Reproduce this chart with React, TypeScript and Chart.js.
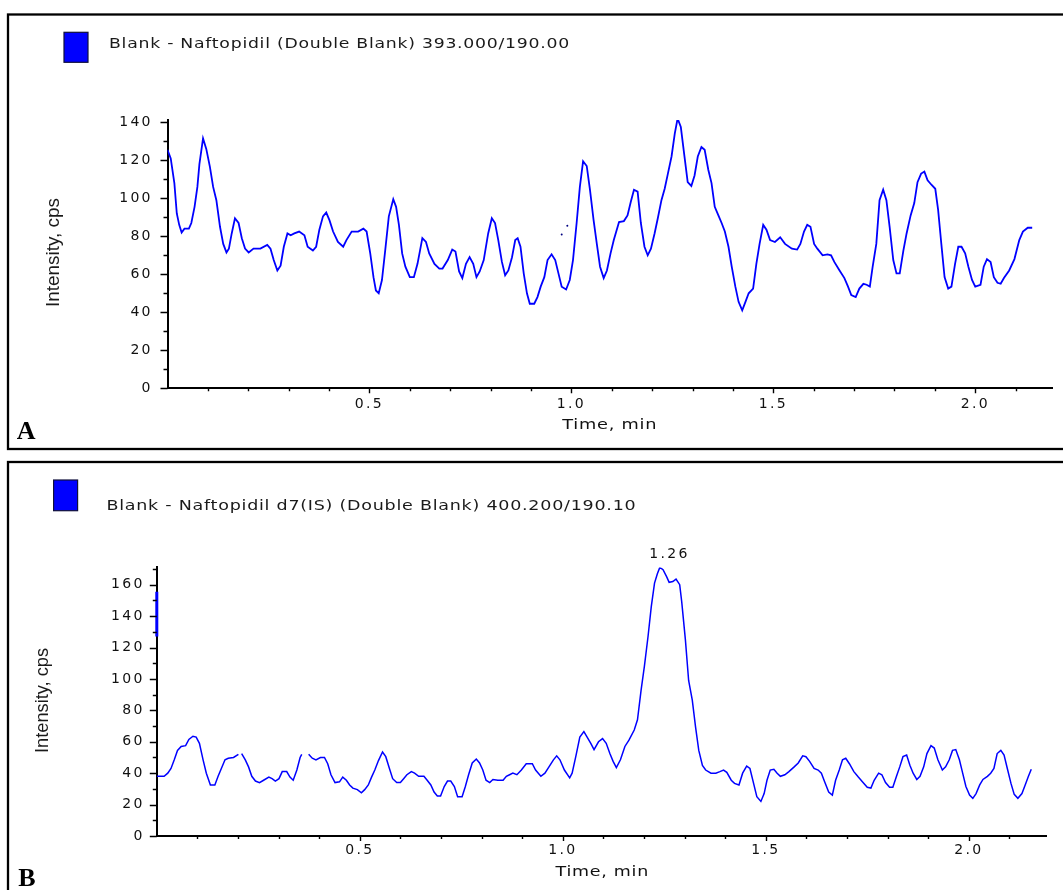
import React, { useEffect, useRef } from "react";
import { Chart, registerables } from "chart.js";

Chart.register(...registerables);

// ---------- Panel A: Blank - Naftopidil (Double Blank) 393.000/190.00 ----------
const titleA = "Blank - Naftopidil (Double Blank) 393.000/190.00";
const timesA = [
  0.0, 0.008, 0.017, 0.023, 0.029, 0.035, 0.042, 0.053, 0.059, 0.067, 0.074, 0.079, 0.088, 0.096,
  0.105, 0.113, 0.121, 0.13, 0.138, 0.146, 0.152, 0.159, 0.167, 0.176, 0.184, 0.192, 0.201, 0.213,
  0.23, 0.247, 0.255, 0.263, 0.272, 0.28, 0.288, 0.297, 0.305, 0.314, 0.326, 0.339, 0.347, 0.36,
  0.368, 0.376, 0.385, 0.393, 0.401, 0.41, 0.422, 0.435, 0.443, 0.456, 0.472, 0.485, 0.493, 0.502,
  0.51, 0.516, 0.523, 0.531, 0.539, 0.548, 0.559, 0.566, 0.573, 0.581, 0.589, 0.6, 0.61, 0.619,
  0.631, 0.64, 0.648, 0.661, 0.673, 0.681, 0.694, 0.705, 0.713, 0.722, 0.73, 0.739, 0.748, 0.757,
  0.765, 0.773, 0.783, 0.794, 0.803, 0.811, 0.819, 0.828, 0.836, 0.844, 0.853, 0.861, 0.867, 0.874,
  0.882, 0.89, 0.897, 0.908, 0.916, 0.924, 0.933, 0.941, 0.951, 0.96, 0.968, 0.976, 0.987, 0.996,
  1.004, 1.013, 1.021, 1.029, 1.038, 1.046, 1.055, 1.063, 1.071, 1.08, 1.088, 1.097, 1.105, 1.118,
  1.13, 1.139, 1.147, 1.155, 1.164, 1.172, 1.181, 1.189, 1.197, 1.206, 1.214, 1.223, 1.231, 1.239,
  1.248, 1.256, 1.263, 1.271, 1.28, 1.288, 1.297, 1.305, 1.313, 1.322, 1.33, 1.339, 1.347, 1.355,
  1.364, 1.372, 1.38, 1.389, 1.397, 1.406, 1.414, 1.423, 1.431, 1.439, 1.45, 1.458, 1.466, 1.475,
  1.483, 1.492, 1.504, 1.517, 1.529, 1.546, 1.559, 1.567, 1.576, 1.584, 1.592, 1.601, 1.609, 1.622,
  1.634, 1.643, 1.651, 1.664, 1.676, 1.685, 1.693, 1.704, 1.713, 1.723, 1.731, 1.739, 1.746, 1.755,
  1.763, 1.772, 1.78, 1.788, 1.797, 1.805, 1.813, 1.822, 1.83, 1.84, 1.849, 1.857, 1.866, 1.874,
  1.882, 1.892, 1.901, 1.908, 1.916, 1.924, 1.933, 1.941, 1.95, 1.958, 1.966, 1.975, 1.983, 1.992,
  2.0, 2.013, 2.021, 2.029, 2.038, 2.046, 2.055, 2.063, 2.071, 2.084, 2.097, 2.109, 2.118, 2.13, 2.141,
];
const valuesA = [
  125.5, 121, 108, 92, 86, 82, 84, 84, 87, 95.5, 106, 118, 131.5, 126,
  116.5, 106, 99, 85, 76, 71.5, 73.5, 81.5, 89.5, 87, 79, 73.5, 71.5, 73.5,
  73.5, 75.5, 73.5, 67.5, 62, 64.5, 74.5, 81.5, 80.5, 81.5, 82.5, 80.5, 74.5, 72.5,
  74.5, 83.5, 90.5, 92.5, 88.5, 82.5, 77, 74.5, 78, 82.5, 82.5, 84, 82.5, 71,
  58.5, 51.5, 50, 57, 72.5, 90.5, 99.5, 95.5, 86, 71, 64, 58.5, 58.5, 65.5,
  79, 77, 71, 65.5, 63, 63, 67.5, 73, 72, 61.5, 58, 65.5, 69, 65.5,
  58.5, 61.5, 67.5, 81.5, 89.5, 87, 78, 66.5, 59.5, 62, 69, 78, 79, 74.5,
  60.5, 50, 44.5, 44.5, 48, 53.5, 58.5, 67.5, 70.5, 67.5, 60.5, 53.5, 52, 57,
  67.5, 87, 106, 119.5, 117, 104.5, 88.5, 76, 64, 58, 62, 71, 78, 87.5,
  88, 91, 98, 104.5, 103.5, 87, 74.5, 70, 73.5, 81.5, 89.5, 99, 105, 113,
  122, 134, 142, 137.5, 122, 108.5, 106.5, 112, 122, 127, 125.5, 115, 108, 95.5,
  91, 87, 82.5, 74.5, 64, 53.5, 45.5, 41, 45.5, 50, 52.5, 65.5, 76, 86,
  83.5, 78, 77, 79.5, 76, 73.5, 73, 76, 82.5, 86, 85, 76, 73.5, 70,
  70.5, 70, 66.5, 62, 58, 53.5, 49, 48, 52.5, 55, 54.5, 53.5, 64, 76,
  99, 104.5, 99, 85, 67.5, 60.5, 60.5, 72.5, 81.5, 91, 97.5, 108.5, 113, 114,
  109.5, 107, 105, 94, 76, 58.5, 52.5, 53.5, 65.5, 74.5, 74.5, 71, 64, 57,
  53.5, 54.5, 64, 68, 66.5, 58.5, 55.5, 55, 58, 62, 68, 78, 82.5, 84.5, 84.5,
];
// stray single-pixel marks seen above the trace
const strayTimesA = [0.976, 0.99];
const strayValuesA = [81, 85.5];

// ---------- Panel B: Blank - Naftopidil d7(IS) (Double Blank) 400.200/190.10 ----------
const titleB = "Blank - Naftopidil d7(IS) (Double Blank) 400.200/190.10";
const timesB = [
  0.0, 0.018, 0.027, 0.035, 0.043, 0.051, 0.06, 0.071, 0.079, 0.089, 0.097, 0.105, 0.114, 0.122,
  0.132, 0.143, 0.151, 0.159, 0.168, 0.176, 0.189, 0.201, 0.205, 0.209, 0.218, 0.226, 0.234, 0.243,
  0.253, 0.263, 0.276, 0.284, 0.292, 0.301, 0.309, 0.32, 0.328, 0.336, 0.345, 0.353, 0.357, 0.365,
  0.374, 0.383, 0.392, 0.403, 0.413, 0.421, 0.429, 0.439, 0.45, 0.458, 0.467, 0.475, 0.483, 0.494,
  0.504, 0.512, 0.521, 0.529, 0.537, 0.546, 0.556, 0.564, 0.573, 0.581, 0.591, 0.6, 0.608, 0.616,
  0.627, 0.635, 0.645, 0.658, 0.666, 0.675, 0.683, 0.691, 0.699, 0.708, 0.716, 0.724, 0.733, 0.741,
  0.752, 0.76, 0.768, 0.777, 0.787, 0.795, 0.803, 0.811, 0.82, 0.828, 0.84, 0.853, 0.861, 0.869,
  0.877, 0.887, 0.898, 0.91, 0.925, 0.933, 0.946, 0.956, 0.966, 0.977, 0.985, 0.993, 1.004, 1.017,
  1.023, 1.032, 1.042, 1.052, 1.06, 1.069, 1.077, 1.088, 1.098, 1.107, 1.116, 1.124, 1.132, 1.142,
  1.153, 1.163, 1.176, 1.184, 1.193, 1.201, 1.21, 1.218, 1.226, 1.233, 1.239, 1.247, 1.256, 1.262,
  1.271, 1.279, 1.288, 1.293, 1.302, 1.31, 1.319, 1.327, 1.335, 1.344, 1.352, 1.365, 1.377, 1.387,
  1.396, 1.404, 1.415, 1.423, 1.434, 1.443, 1.453, 1.461, 1.47, 1.478, 1.488, 1.496, 1.503, 1.511,
  1.52, 1.528, 1.536, 1.547, 1.557, 1.57, 1.58, 1.591, 1.599, 1.608, 1.619, 1.629, 1.637, 1.645,
  1.655, 1.664, 1.672, 1.681, 1.689, 1.697, 1.706, 1.717, 1.728, 1.738, 1.75, 1.759, 1.767, 1.778,
  1.786, 1.795, 1.805, 1.813, 1.822, 1.83, 1.838, 1.847, 1.855, 1.863, 1.872, 1.88, 1.889, 1.897,
  1.907, 1.915, 1.924, 1.935, 1.943, 1.952, 1.96, 1.968, 1.977, 1.985, 1.993, 2.002, 2.01, 2.018,
  2.027, 2.035, 2.046, 2.054, 2.062, 2.07, 2.079, 2.087, 2.095, 2.104, 2.112, 2.121, 2.131, 2.139,
  2.147, 2.154,
];
const valuesB = [
  38, 38, 40, 43, 48.5, 54.5, 57, 57.5, 61.5, 63.5, 63, 59, 48.5, 40,
  32.5, 32.5, 38, 43, 48.5, 49.5, 50, 52, null, 52.5, 48.5, 44, 38, 35,
  34, 35.5, 37.5, 36.5, 35, 36.5, 41, 41, 37.5, 35.5, 42, 50, 52, null,
  52, 49.5, 48.5, 50, 50, 46, 39, 34, 34.5, 37.5, 35.5, 32.5, 30.5, 29.5,
  27.5, 29.5, 32.5, 37.5, 42, 48, 53.5, 50.5, 43, 36.5, 34, 34, 36.5, 39,
  41, 40, 38, 38, 35.5, 32.5, 28, 25.5, 25.5, 31.5, 35, 35, 31.5, 25,
  25, 31.5, 39, 46.5, 49, 46.5, 42, 35.5, 34, 36, 35.5, 35.5, 38, 39,
  40, 39, 42, 46, 46, 42, 38, 40, 44, 48.5, 51, 48.5, 42, 37,
  40, 50.5, 63, 66.5, 63, 59, 55, 60, 62, 59, 52.5, 47.5, 43.5, 48.5,
  57, 61, 67.5, 74, 93, 108, 127, 146, 161, 167, 171, 169.5, 165, 161.5,
  162, 163.5, 160, 149, 125, 99, 86.5, 69.5, 54.5, 45, 42, 40, 40, 41,
  42, 40.5, 35.5, 33.5, 32.5, 40, 44.5, 43, 33.5, 25, 22, 27, 35.5, 42,
  42.5, 40, 38, 39, 41, 44, 46.5, 51, 50.5, 47.5, 43, 42, 40, 34.5,
  28, 26, 35.5, 42, 48.5, 49.5, 46, 41, 37.5, 34.5, 31, 30.5, 35.5, 40,
  39, 34, 31, 31, 38, 44, 50.5, 51.5, 45, 40, 36, 38, 44, 52.5,
  57.5, 56, 48.5, 42, 44, 48.5, 54.5, 55, 48.5, 40, 31.5, 26, 24, 27,
  32.5, 36, 38, 40, 43, 52.5, 54.5, 51.5, 43, 33.5, 26.5, 24, 27, 32.5,
  38, 42.5,
];
// short blue segment lying on the intensity axis at t = 0
const axisMarkTimesB = [0, 0];
const axisMarkValuesB = [155.5, 127];
const peakLabelB = "1.26";
const peakTimeB = 1.26;

const yLabel = "Intensity, cps";
const xLabel = "Time, min";

type Panel = {
  key: string;
  letter: string;
  title: string;
  canvasTop: number;
  canvasHeight: number;
  chartLeft: number;
  padRight: number;
  padTop: number;
  padBottom: number;
  xMax: number;
  yMax: number;
  yTickMax: number;
  yTickPad: number;
  xTickPad: number;
  border: [number, number, number, number];
  legendRect: [number, number, number, number];
  titlePos: [number, number, number];
  yLabelPos: [number, number, number];
  xLabelPos: [number, number, number];
  letterPos: [number, number];
  datasets: any[];
  peak?: { text: string; t: number; value: number };
};

const TICK_SPACING = 2.3;
const TICK_FONT = { family: "DejaVu Sans", size: 14 };

// draws text stretched horizontally so that it spans `width` pixels
function drawStretched(ctx: CanvasRenderingContext2D, text: string, left: number, cy: number, width: number, font: string, color: string) {
  ctx.save();
  ctx.font = font;
  (ctx as any).letterSpacing = "0.6px";
  const w0 = ctx.measureText(text).width;
  ctx.translate(left, cy);
  ctx.scale(width / w0, 1);
  ctx.fillStyle = color;
  ctx.textAlign = "left";
  ctx.textBaseline = "middle";
  ctx.fillText(text, 0, 0);
  ctx.restore();
}

function decorPlugin(p: Panel) {
  return {
    id: "decor" + p.key,
    beforeDraw(chart: any) {
      (chart.ctx as any).letterSpacing = TICK_SPACING + "px";
    },
    afterDraw(chart: any) {
      const ctx: CanvasRenderingContext2D = chart.ctx;
      const xs = chart.scales.x;
      const ys = chart.scales.y;
      ctx.save();
      (ctx as any).letterSpacing = "0px";
      // panel frame
      ctx.strokeStyle = "#000";
      ctx.lineWidth = 2.3;
      ctx.strokeRect(p.border[0], p.border[1], p.border[2], p.border[3]);
      // legend swatch
      ctx.fillStyle = "#0000ff";
      ctx.fillRect(p.legendRect[0], p.legendRect[1], p.legendRect[2], p.legendRect[3]);
      ctx.strokeStyle = "#10103a";
      ctx.lineWidth = 1.2;
      ctx.strokeRect(p.legendRect[0], p.legendRect[1], p.legendRect[2], p.legendRect[3]);
      // trace title
      drawStretched(ctx, p.title, p.titlePos[0], p.titlePos[1], p.titlePos[2], '14px "DejaVu Sans"', "#1a1a1a");
      // tick marks
      ctx.strokeStyle = "#000";
      ctx.lineWidth = 1.4;
      const axisX = xs.left;
      const axisY = ys.bottom;
      ctx.beginPath();
      for (let i = 0; i * 10 <= p.yTickMax; i++) {
        const v = i * 10;
        const py = Math.round(ys.getPixelForValue(v)) + 0.5;
        const len = v % 20 === 0 ? 7 : 4;
        ctx.moveTo(axisX - len, py);
        ctx.lineTo(axisX, py);
      }
      for (let i = 1; i / 10 <= p.xMax; i++) {
        const px = Math.round(xs.getPixelForValue(i / 10)) + 0.5;
        const len = i % 5 === 0 ? 5 : 3;
        ctx.moveTo(px, axisY);
        ctx.lineTo(px, axisY + len);
      }
      ctx.stroke();
      // y axis title (rotated)
      ctx.save();
      ctx.translate(p.yLabelPos[0], p.yLabelPos[1]);
      ctx.rotate(-Math.PI / 2);
      ctx.font = '18px "Liberation Sans"';
      const w = ctx.measureText(yLabel).width;
      ctx.scale(p.yLabelPos[2] / w, 1);
      ctx.fillStyle = "#1a1a1a";
      ctx.textAlign = "center";
      ctx.textBaseline = "middle";
      ctx.fillText(yLabel, 0, 0);
      ctx.restore();
      // x axis title
      drawStretched(ctx, xLabel, p.xLabelPos[0], p.xLabelPos[1], p.xLabelPos[2], '14px "DejaVu Sans"', "#111");
      // peak annotation
      if (p.peak) {
        ctx.save();
        ctx.font = '14px "DejaVu Sans"';
        (ctx as any).letterSpacing = TICK_SPACING + "px";
        ctx.fillStyle = "#111";
        ctx.textAlign = "center";
        ctx.textBaseline = "middle";
        const px = xs.getPixelForValue(p.peak.t) + TICK_SPACING / 2;
        const py = ys.getPixelForValue(p.peak.value) - 13;
        ctx.fillText(p.peak.text, px, py);
        ctx.restore();
      }
      // panel letter
      ctx.font = 'bold 26px "Liberation Serif"';
      ctx.fillStyle = "#000";
      ctx.textAlign = "left";
      ctx.textBaseline = "alphabetic";
      ctx.fillText(p.letter, p.letterPos[0], p.letterPos[1]);
      ctx.restore();
    },
  };
}

const toPoints = (ts: number[], vs: (number | null)[]) => ts.map((t, i) => ({ x: t, y: vs[i] }));

const peakMaxB = Math.max(...(valuesB.filter((v) => v !== null) as number[]));

const panels: Panel[] = [
  {
    key: "A",
    letter: "A",
    title: titleA,
    canvasTop: 0,
    canvasHeight: 456,
    chartLeft: 167.5,
    padRight: 10.2,
    padTop: 120,
    padBottom: 27.7,
    xMax: 2.192,
    yMax: 141.2,
    yTickMax: 140,
    yTickPad: 14.7,
    xTickPad: 7.6,
    border: [8, 14.5, 1100, 434.5],
    legendRect: [64, 32.3, 24, 30],
    titlePos: [109, 44, 461],
    yLabelPos: [54, 252.5, 109],
    xLabelPos: [562.3, 425, 95],
    letterPos: [16.7, 439],
    datasets: [
      {
        data: toPoints(timesA, valuesA),
        borderColor: "#0000ff",
        borderWidth: 1.8,
        pointRadius: 0,
        tension: 0,
      },
      {
        data: toPoints(strayTimesA, strayValuesA),
        showLine: false,
        pointRadius: 1,
        pointBorderWidth: 0,
        pointBackgroundColor: "#000080",
      },
    ],
  },
  {
    key: "B",
    letter: "B",
    title: titleB,
    canvasTop: 456,
    canvasHeight: 434,
    chartLeft: 156.8,
    padRight: 16.3,
    padTop: 111.4,
    padBottom: 14,
    xMax: 2.192,
    yMax: 171,
    yTickMax: 170,
    yTickPad: 12.2,
    xTickPad: 6.3,
    border: [8, 6, 1100, 1000],
    legendRect: [53.6, 24, 24, 30.7],
    titlePos: [106.4, 50.7, 530],
    yLabelPos: [43.4, 244.5, 105],
    xLabelPos: [555.5, 416.7, 93.5],
    letterPos: [18.3, 430],
    peak: { text: peakLabelB, t: peakTimeB, value: peakMaxB },
    datasets: [
      {
        data: toPoints(timesB, valuesB),
        borderColor: "#0000ff",
        borderWidth: 1.5,
        pointRadius: 0,
        tension: 0,
        spanGaps: false,
      },
      {
        data: toPoints(axisMarkTimesB, axisMarkValuesB),
        borderColor: "#0000ff",
        borderWidth: 3,
        pointRadius: 0,
        clip: false,
      },
    ],
  },
];

function PanelChart({ p }: { p: Panel }) {
  const ref = useRef<HTMLCanvasElement | null>(null);
  useEffect(() => {
    if (!ref.current) return;
    const chart = new Chart(ref.current, {
      type: "line",
      data: { datasets: p.datasets },
      options: {
        responsive: false,
        animation: false,
        events: [],
        layout: { padding: { left: 0, right: p.padRight, top: p.padTop, bottom: p.padBottom } },
        plugins: { legend: { display: false }, tooltip: { enabled: false }, title: { display: false } },
        scales: {
          x: {
            type: "linear",
            min: 0,
            max: p.xMax,
            grid: { display: false, drawTicks: false },
            border: { display: true, color: "#000", width: 2 },
            ticks: {
              stepSize: 0.5,
              includeBounds: false,
              autoSkip: false,
              maxRotation: 0,
              padding: p.xTickPad,
              color: "#111",
              font: TICK_FONT,
              callback: (v: any) => (Number(v) === 0 ? "" : Number(v).toFixed(1)),
            },
            afterFit: (s: any) => {
              s.height = 40;
            },
          },
          y: {
            type: "linear",
            min: 0,
            max: p.yMax,
            grid: { display: false, drawTicks: false },
            border: { display: true, color: "#000", width: 2 },
            ticks: {
              stepSize: 20,
              includeBounds: false,
              padding: p.yTickPad,
              color: "#111",
              font: TICK_FONT,
              callback: (v: any) => String(v),
            },
            afterFit: (s: any) => {
              s.width = p.chartLeft;
            },
          },
        },
      } as any,
      plugins: [decorPlugin(p)],
    });
    return () => chart.destroy();
  }, [p]);
  return (
    <canvas
      ref={ref}
      width={1063}
      height={p.canvasHeight}
      style={{ position: "absolute", left: 0, top: p.canvasTop, display: "block" }}
    />
  );
}

export default function App() {
  return (
    <div style={{ position: "absolute", left: 0, top: 0, width: 1063, height: 890, overflow: "hidden", background: "#fff" }}>
      {panels.map((p) => (
        <PanelChart key={p.key} p={p} />
      ))}
    </div>
  );
}
